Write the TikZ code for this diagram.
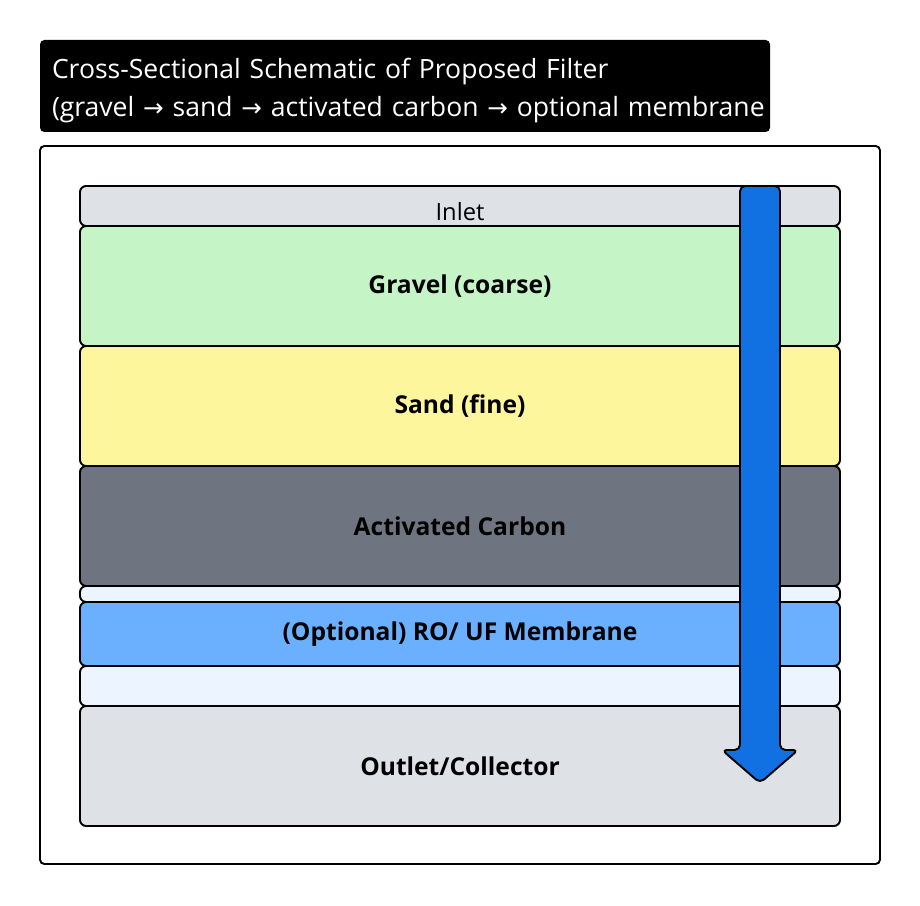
\documentclass[tikz,border=0pt]{standalone}
\usepackage{fontspec}
\setmainfont{Open Sans}
\newfontfamily\arrowfont{DejaVu Sans}
\definecolor{inletgray}{RGB}{222, 225, 230}
\definecolor{gravel}{RGB}{197, 245, 199}
\definecolor{sand}{RGB}{254, 246, 156}
\definecolor{carbon}{RGB}{111, 117, 128}
\definecolor{paleblue}{RGB}{236, 244, 255}
\definecolor{membrane}{RGB}{107, 176, 255}
\definecolor{flowblue}{RGB}{18, 113, 226}
\usepackage{tikz}

\newcommand{\ra}{{\arrowfont\fontsize{14pt}{16pt}\selectfont →}}

\begin{document}
\begin{tikzpicture}[layer/.style={draw, line width=1.1pt, rounded corners=3.5pt, minimum width=15.2cm, inner sep=0pt, font=\fontsize{14pt}{16pt}\selectfont\bfseries}]
      \useasboundingbox (0,0) rectangle (18.4,18.1);

      % Title
      \node[fill=black, text=white, rounded corners=2.5pt, minimum width=14.6cm, minimum height=1.84cm, align=left, text width=14.12cm, inner xsep=0.24cm, font=\fontsize{15.1pt}{21.5pt}\selectfont] (title) at (8.1,16.38) {\mbox{\rule{0pt}{0.6cm}Cross-Sectional Schematic of Proposed Filter}\\\mbox{(gravel \ra{} sand \ra{} activated carbon \ra{} optional membrane}};

      % Housing
      \node[draw, line width=1.1pt, rounded corners=2.5pt, minimum width=16.8cm, minimum height=14.36cm] (housing) at (9.2,8.0) {};

      % Layers
      \node[layer, fill=inletgray, minimum height=0.8cm] (inlet) at (9.2,13.98) {};
      \node[font=\fontsize{13.5pt}{15pt}\selectfont] (inletlabel) at (9.2,13.86) {Inlet};
      \node[layer, fill=gravel, minimum height=2.4cm] (gravel) at (9.2,12.38) {Gravel (coarse)};
      \node[layer, fill=sand, minimum height=2.4cm] (sand) at (9.2,9.98) {Sand (fine)};
      \node[layer, fill=carbon, minimum height=2.4cm] (carbon) at (9.2,7.58) {Activated Carbon};
      \node[layer, fill=paleblue, minimum height=0.32cm] (gap1) at (9.2,6.22) {};
      \node[layer, fill=membrane, minimum height=1.28cm] (membrane) at (9.2,5.42) {(Optional) RO/ UF Membrane};
      \node[layer, fill=paleblue, minimum height=0.8cm] (gap2) at (9.2,4.38) {};
      \node[layer, fill=inletgray, minimum height=2.4cm] (outlet) at (9.2,2.78) {Outlet/Collector};

      % Flow arrow
      \coordinate (flowtop) at (15.2,14.38);
      \draw[line width=1.1pt, fill=flowblue, rounded corners=3pt] (flowtop) ++(-0.4,0) -- ++(0.8,0) -- ++(0,-11.28) -- ++(0.36,0) -- ++(-0.76,-0.66) -- ++(-0.76,0.66) -- ++(0.36,0) -- cycle;
    \end{tikzpicture}
\end{document}
